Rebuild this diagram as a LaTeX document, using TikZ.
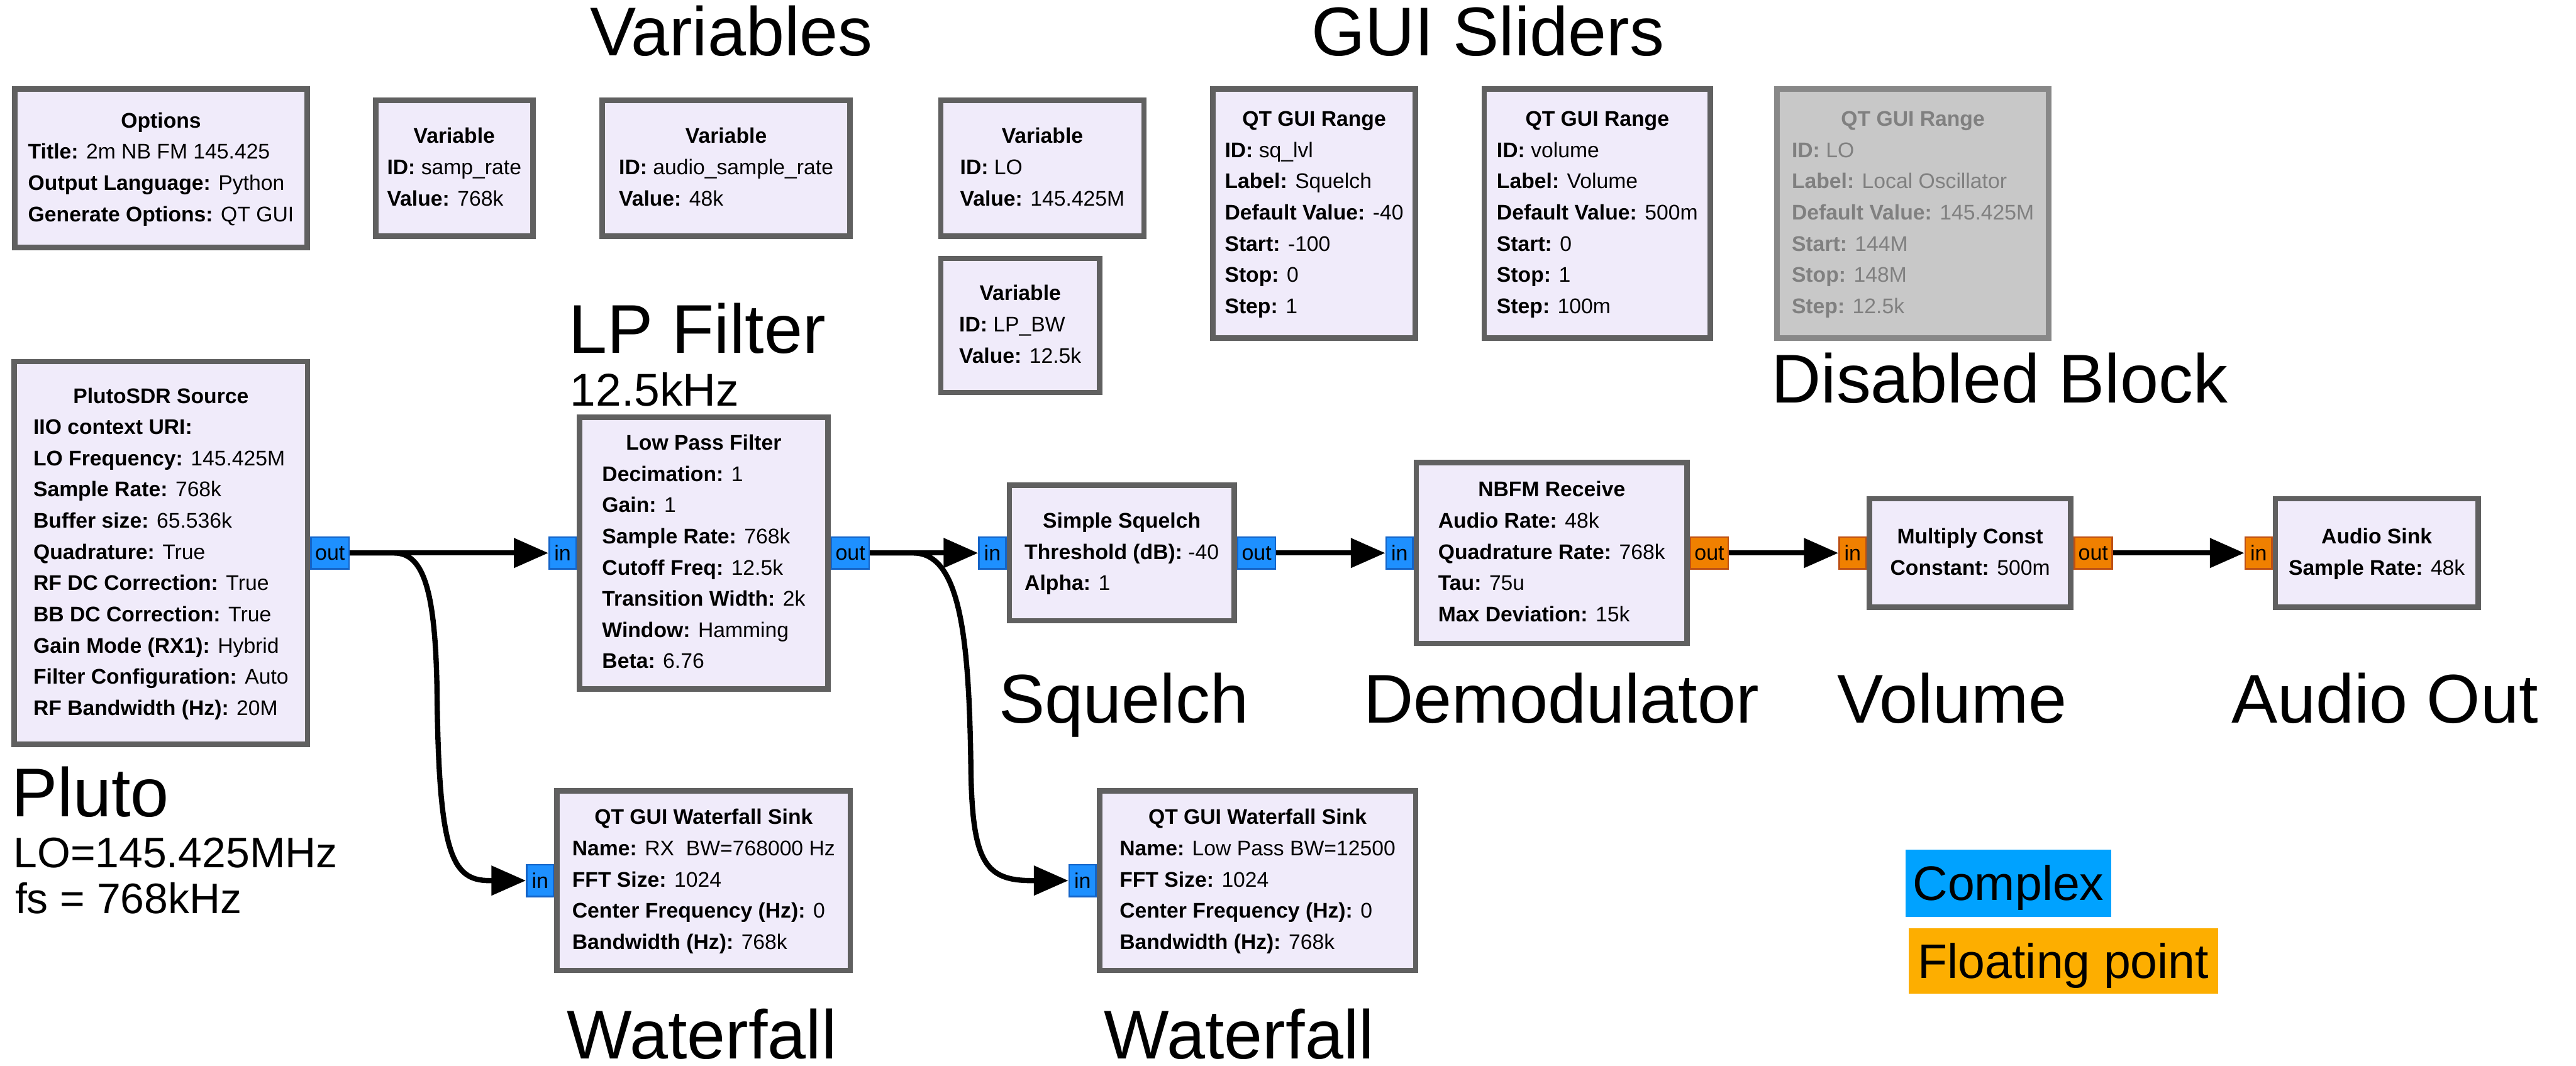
\documentclass[tikz,border=0pt]{standalone}
\usepackage{fontspec}
\setmainfont{Liberation Sans}
\usetikzlibrary{arrows.meta}

\definecolor{blkfill}{RGB}{240,235,250}
\definecolor{blkline}{RGB}{96,96,96}
\definecolor{offfill}{RGB}{200,200,200}
\definecolor{offline}{RGB}{136,136,136}
\definecolor{offtext}{RGB}{128,128,128}
\definecolor{cportfill}{RGB}{30,144,255}
\definecolor{cportline}{RGB}{20,100,200}
\definecolor{fportfill}{RGB}{240,128,0}
\definecolor{fportline}{RGB}{190,80,20}
\definecolor{complexkey}{RGB}{0,162,255}
\definecolor{floatkey}{RGB}{253,174,0}

% block body: bold centred title, then left-aligned parameter lines
\newcommand\grcblock[2]{\begin{tabular}{@{}l@{}}\multicolumn{1}{@{}c@{}}{\textbf{#1}}\\#2\end{tabular}}
\newcommand\grcp[2]{\textbf{#1:} #2}

\tikzset{
  blk/.style={draw=blkline, fill=blkfill, line width=3.3pt, inner sep=0pt,
    font=\fontsize{12.9}{19}\selectfont},
  offblk/.style={blk, draw=offline, fill=offfill, text=offtext},
  cport/.style={draw=cportline, fill=cportfill, line width=1pt, inner sep=0pt,
    minimum height=19.4pt, font=\fontsize{13}{13}\selectfont},
  fport/.style={cport, draw=fportline, fill=fportfill},
  inport/.style={minimum width=16.3pt, anchor=east},
  outport/.style={minimum width=23pt, anchor=west},
  wire/.style={line width=3.2pt, -{Triangle[length=21pt,width=17.5pt]}},
  biglabel/.style={anchor=base west, inner sep=0pt, font=\fontsize{42}{46}\selectfont},
  sublabel/.style={anchor=base west, inner sep=0pt, font=\fontsize{28}{32}\selectfont},
  smalllabel/.style={anchor=base west, inner sep=0pt, font=\fontsize{26}{30}\selectfont},
  keybox/.style={inner sep=0pt, text height=21.1pt, text depth=0pt,
    font=\fontsize{29.5}{32}\selectfont},
}

\begin{document}
\begin{tikzpicture}[x=1pt,y=-1pt]
\fill[white] (0,0) rectangle (1568,648.5);
\useasboundingbox (0,0) rectangle (1568,648.5);

% ---- top row: options, variables, sliders ----
\node[blk, minimum width=177.9pt, minimum height=96.6pt] (options) at (98,102.45)
  {\grcblock{Options}{\grcp{Title}{2m NB FM 145.425}\\ \grcp{Output Language}{Python}\\ \grcp{Generate Options}{QT GUI}}};
\node[blk, minimum width=95.7pt, minimum height=82.9pt] (varsr) at (276.5,102.4)
  {\grcblock{Variable}{\grcp{ID}{samp\_rate}\\ \grcp{Value}{768k}}};
\node[blk, minimum width=150.7pt, minimum height=82.9pt] (varasr) at (442,102.4)
  {\grcblock{Variable}{\grcp{ID}{audio\_sample\_rate}\\ \grcp{Value}{48k}}};
\node[blk, minimum width=123.7pt, minimum height=82.9pt] (varlo) at (634.5,102.4)
  {\grcblock{Variable}{\grcp{ID}{LO}\\ \grcp{Value}{145.425M}}};
\node[blk, minimum width=96.7pt, minimum height=81.5pt] (varbw) at (621,198.1)
  {\grcblock{Variable}{\grcp{ID}{LP\_BW}\\ \grcp{Value}{12.5k}}};
\node[blk, minimum width=123.3pt, minimum height=151.6pt] (rngsq) at (799.9,129.95)
  {\grcblock{QT GUI Range}{\grcp{ID}{sq\_lvl}\\ \grcp{Label}{Squelch}\\ \grcp{Default Value}{-40}\\ \grcp{Start}{-100}\\ \grcp{Stop}{0}\\ \grcp{Step}{1}}};
\node[blk, minimum width=137.6pt, minimum height=151.6pt] (rngvol) at (972.25,129.95)
  {\grcblock{QT GUI Range}{\grcp{ID}{volume}\\ \grcp{Label}{Volume}\\ \grcp{Default Value}{500m}\\ \grcp{Start}{0}\\ \grcp{Stop}{1}\\ \grcp{Step}{100m}}};
\node[offblk, minimum width=165.4pt, minimum height=151.6pt] (rnglo) at (1164.35,129.95)
  {\grcblock{QT GUI Range}{\grcp{ID}{LO}\\ \grcp{Label}{Local Oscillator}\\ \grcp{Default Value}{145.425M}\\ \grcp{Start}{144M}\\ \grcp{Stop}{148M}\\ \grcp{Step}{12.5k}}};

% ---- receive chain ----
\node[blk, minimum width=178.6pt, minimum height=233.1pt] (pluto) at (97.95,336.6)
  {\grcblock{PlutoSDR Source}{\grcp{IIO context URI}{}\\ \grcp{LO Frequency}{145.425M}\\ \grcp{Sample Rate}{768k}\\ \grcp{Buffer size}{65.536k}\\ \grcp{Quadrature}{True}\\ \grcp{RF DC Correction}{True}\\ \grcp{BB DC Correction}{True}\\ \grcp{Gain Mode (RX1)}{Hybrid}\\ \grcp{Filter Configuration}{Auto}\\ \grcp{RF Bandwidth (Hz)}{20M}}};
\node[blk, minimum width=151.2pt, minimum height=165.4pt] (lpf) at (428.35,336.6)
  {\grcblock{Low Pass Filter}{\grcp{Decimation}{1}\\ \grcp{Gain}{1}\\ \grcp{Sample Rate}{768k}\\ \grcp{Cutoff Freq}{12.5k}\\ \grcp{Transition Width}{2k}\\ \grcp{Window}{Hamming}\\ \grcp{Beta}{6.76}}};
\node[blk, minimum width=136.9pt, minimum height=82.5pt] (squelch) at (682.8,336.6)
  {\grcblock{Simple Squelch}{\grcp{Threshold (dB)}{-40}\\ \grcp{Alpha}{1}}};
\node[blk, minimum width=164.7pt, minimum height=110.1pt] (nbfm) at (944.5,336.6)
  {\grcblock{NBFM Receive}{\grcp{Audio Rate}{48k}\\ \grcp{Quadrature Rate}{768k}\\ \grcp{Tau}{75u}\\ \grcp{Max Deviation}{15k}}};
\node[blk, minimum width=122.5pt, minimum height=66.1pt] (mult) at (1199.2,336.6)
  {\grcblock{Multiply Const}{\grcp{Constant}{500m}}};
\node[blk, minimum width=123.3pt, minimum height=66.1pt] (sink) at (1446.7,336.6)
  {\grcblock{Audio Sink}{\grcp{Sample Rate}{48k}}};
\node[blk, minimum width=178.5pt, minimum height=109.3pt] (wfrx) at (428.3,536)
  {\grcblock{QT GUI Waterfall Sink}{\grcp{Name}{RX\ \ BW=768000 Hz}\\ \grcp{FFT Size}{1024}\\ \grcp{Center Frequency (Hz)}{0}\\ \grcp{Bandwidth (Hz)}{768k}}};
\node[blk, minimum width=192.4pt, minimum height=109.3pt] (wflp) at (765.45,536)
  {\grcblock{QT GUI Waterfall Sink}{\grcp{Name}{Low Pass BW=12500}\\ \grcp{FFT Size}{1024}\\ \grcp{Center Frequency (Hz)}{0}\\ \grcp{Bandwidth (Hz)}{768k}}};

% ---- ports ----
\node[cport, outport] (pluto-out) at (pluto.east) {out};
\node[cport, inport]  (lpf-in) at (lpf.west) {in};
\node[cport, outport] (lpf-out) at (lpf.east) {out};
\node[cport, inport]  (squelch-in) at (squelch.west) {in};
\node[cport, outport] (squelch-out) at (squelch.east) {out};
\node[cport, inport]  (nbfm-in) at (nbfm.west) {in};
\node[fport, outport] (nbfm-out) at (nbfm.east) {out};
\node[fport, inport]  (mult-in) at (mult.west) {in};
\node[fport, outport] (mult-out) at (mult.east) {out};
\node[fport, inport]  (sink-in) at (sink.west) {in};
\node[cport, inport]  (wfrx-in) at (wfrx.west) {in};
\node[cport, inport]  (wflp-in) at (wflp.west) {in};

% ---- connections ----
\draw[wire] (pluto-out.east) -- (lpf-in.west);
\draw[wire] (lpf-out.east) -- (squelch-in.west);
\draw[wire] (squelch-out.east) -- (nbfm-in.west);
\draw[wire] (nbfm-out.east) -- (mult-in.west);
\draw[wire] (mult-out.east) -- (sink-in.west);
\draw[wire] (pluto-out.east) -- (240,336.6)
  .. controls (258,336.6) and (265,360) .. (266,420)
  .. controls (267,520) and (275,536) .. (298,536) -- (wfrx-in.west);
\draw[wire] (lpf-out.east) -- (556,336.6)
  .. controls (585,336.6) and (590,390) .. (591,470)
  .. controls (592,525) and (600,536) .. (628,536) -- (wflp-in.west);

% ---- annotations ----
\node[biglabel] (lblvars) at (359,34) {Variables};
\node[biglabel] (lblsliders) at (798,34) {GUI Sliders};
\node[biglabel] (lbllp) at (346,215) {LP Filter};
\node[sublabel] (lbllpbw) at (347,247) {12.5kHz};
\node[biglabel] (lbldis) at (1078,245) {Disabled Block};
\node[biglabel] (lblpluto) at (7,497) {Pluto};
\node[smalllabel] (lbllo) at (8,528) {LO=145.425MHz};
\node[smalllabel] (lblfs) at (9,556) {fs = 768kHz};
\node[biglabel] (lblsq) at (608,440) {Squelch};
\node[biglabel] (lbldemod) at (830,440) {Demodulator};
\node[biglabel] (lblvol) at (1118,440) {Volume};
\node[biglabel] (lblout) at (1358,440) {Audio Out};
\node[biglabel] (lblwf1) at (345,644.5) {Waterfall};
\node[biglabel] (lblwf2) at (672,644.5) {Waterfall};

% ---- port type key ----
\node[keybox, fill=complexkey, minimum width=125pt, minimum height=41pt] (keycplx) at (1222.5,537.5) {Complex};
\node[keybox, fill=floatkey, minimum width=188pt, minimum height=40pt] (keyfloat) at (1256,585) {Floating point};
\end{tikzpicture}
\end{document}
